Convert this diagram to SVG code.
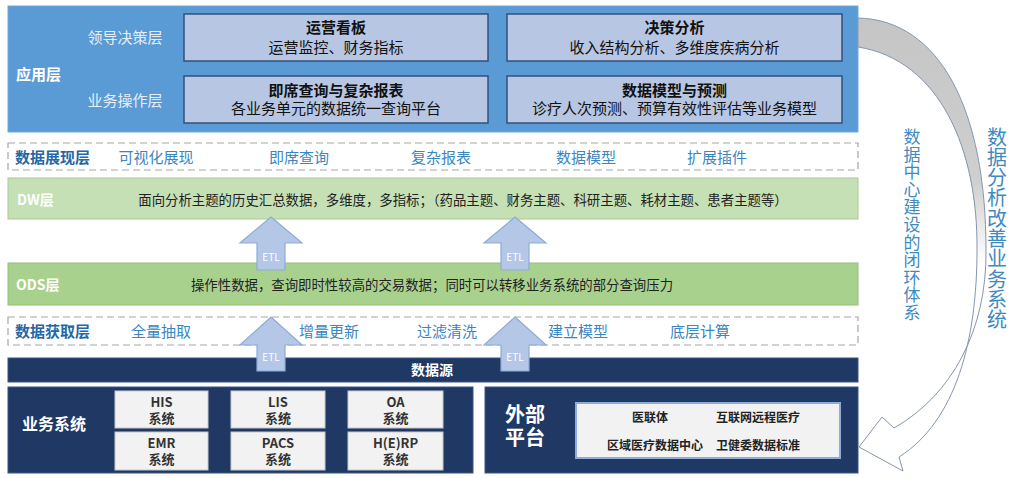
<svg xmlns="http://www.w3.org/2000/svg" width="1024" height="478" viewBox="0 0 1024 478">
<defs>
<linearGradient id="bandGrad" gradientUnits="userSpaceOnUse" x1="0" y1="0" x2="0" y2="478">
<stop offset="0" stop-color="#c4c4c4"/>
<stop offset="0.38" stop-color="#cfcfcf"/>
<stop offset="0.55" stop-color="#ffffff"/>
<stop offset="1" stop-color="#ffffff"/>
</linearGradient>
</defs>
<style>
text{font-family:"Noto Sans CJK SC","Noto Sans",sans-serif;}
.appbox{fill:#b7c6e2;stroke:#33507c;stroke-width:1.5;}
.t15b{font-size:15px;font-weight:bold;fill:#111;text-anchor:middle;}
.t15{font-size:15px;fill:#111;text-anchor:middle;}
.lbl{font-size:15px;fill:#e6eef8;text-anchor:middle;}
.dash{fill:#fff;stroke:#a6a6a6;stroke-width:1.2;stroke-dasharray:7 4;}
.rowhead{font-size:15px;font-weight:bold;fill:#2467a6;}
.item{font-size:15px;fill:#3a86bf;text-anchor:middle;}
.layer{font-size:14px;font-weight:bold;fill:#ffffff;}
.desc{font-size:13.4px;fill:#222;text-anchor:middle;}
.etl{fill:#b4c7e7;stroke:#8fabd8;stroke-width:1.2;}
.etlt{font-size:10px;fill:#ffffff;text-anchor:middle;}
.navy{fill:#1f3864;stroke:#3a5684;stroke-width:1;}
.sys{fill:#f2f2f2;stroke:#c9c9c9;stroke-width:1;}
.syst{font-size:13px;font-weight:bold;fill:#333;text-anchor:middle;}
.ext{font-size:12px;font-weight:bold;fill:#222;text-anchor:middle;}
.vt{fill:#3f8abf;writing-mode:vertical-rl;text-anchor:start;}
</style>

<g id="app-layer">
<rect x="8" y="6" width="850" height="126" fill="#5b9bd5" stroke="#6fa8dc" stroke-width="1"/>
<text x="16" y="80" class="layer" style="font-size:15px">应用层</text>
<text x="125" y="43" class="lbl">领导决策层</text>
<text x="125" y="106" class="lbl">业务操作层</text>
</g>
<g id="node-yunying">
<rect x="184" y="14" width="304" height="47" class="appbox"/>
<text x="336" y="33" class="t15b">运营看板</text>
<text x="336" y="53" class="t15">运营监控、财务指标</text>
</g>
<g id="node-juece">
<rect x="507" y="14" width="335" height="47" class="appbox"/>
<text x="674.5" y="33" class="t15b">决策分析</text>
<text x="674.5" y="53" class="t15">收入结构分析、多维度疾病分析</text>
</g>
<g id="node-jixi">
<rect x="184" y="76" width="304" height="47" class="appbox"/>
<text x="336" y="96" class="t15b">即席查询与复杂报表</text>
<text x="336" y="114" class="t15">各业务单元的数据统一查询平台</text>
</g>
<g id="node-moxing">
<rect x="507" y="76" width="335" height="47" class="appbox"/>
<text x="674.5" y="96" class="t15b">数据模型与预测</text>
<text x="674.5" y="114" class="t15">诊疗人次预测、预算有效性评估等业务模型</text>
</g>

<g id="presentation-layer">
<rect x="8" y="143" width="850" height="27" class="dash"/>
<text x="15" y="163" class="rowhead">数据展现层</text>
<text x="156" y="163" class="item">可视化展现</text>
<text x="299" y="163" class="item">即席查询</text>
<text x="441" y="163" class="item">复杂报表</text>
<text x="586" y="163" class="item">数据模型</text>
<text x="717" y="163" class="item">扩展插件</text>
</g>

<g id="dw-layer">
<rect x="8" y="178" width="850" height="41" fill="#c5e0b4" stroke="#a9c990" stroke-width="1"/>
<text x="17" y="205" class="layer">DW层</text>
<text x="463" y="205" class="desc">面向分析主题的历史汇总数据，多维度，多指标；（药品主题、财务主题、科研主题、耗材主题、患者主题等）</text>
</g>

<g id="ods-layer">
<rect x="8" y="263" width="850" height="42" fill="#a9d18e" stroke="#92bd76" stroke-width="1"/>
<text x="16" y="290" class="layer">ODS层</text>
<text x="432" y="290" class="desc">操作性数据，查询即时性较高的交易数据；同时可以转移业务系统的部分查询压力</text>
</g>

<g id="acquisition-layer">
<rect x="8" y="317" width="850" height="28" class="dash"/>
<text x="15" y="337" class="rowhead">数据获取层</text>
<text x="161" y="337" class="item">全量抽取</text>
<text x="329" y="337" class="item">增量更新</text>
<text x="447" y="337" class="item">过滤清洗</text>
<text x="578" y="337" class="item">建立模型</text>
<text x="700" y="337" class="item">底层计算</text>
</g>

<g id="datasource-bar">
<rect x="8" y="358" width="850" height="24" class="navy"/>
<text x="432" y="375" style="font-size:14px;font-weight:bold;fill:#fff;text-anchor:middle">数据源</text>
</g>

<g id="business-systems">
<rect x="8" y="387" width="465" height="86" class="navy"/>
<text x="22" y="430" style="font-size:16px;font-weight:bold;fill:#fff">业务系统</text>
</g>
<g id="node-his">
<rect x="115" y="391" width="93" height="37" class="sys"/>
<text x="161.5" y="407" class="syst">HIS</text>
<text x="161.5" y="423" class="syst">系统</text>
</g>
<g id="node-lis">
<rect x="231" y="391" width="94" height="37" class="sys"/>
<text x="278" y="407" class="syst">LIS</text>
<text x="278" y="423" class="syst">系统</text>
</g>
<g id="node-oa">
<rect x="348" y="391" width="95" height="37" class="sys"/>
<text x="395.5" y="407" class="syst">OA</text>
<text x="395.5" y="423" class="syst">系统</text>
</g>
<g id="node-emr">
<rect x="115" y="432" width="93" height="38" class="sys"/>
<text x="161.5" y="448" class="syst">EMR</text>
<text x="161.5" y="464" class="syst">系统</text>
</g>
<g id="node-pacs">
<rect x="231" y="432" width="94" height="38" class="sys"/>
<text x="278" y="448" class="syst">PACS</text>
<text x="278" y="464" class="syst">系统</text>
</g>
<g id="node-herp">
<rect x="348" y="432" width="95" height="38" class="sys"/>
<text x="395.5" y="448" class="syst">H(E)RP</text>
<text x="395.5" y="464" class="syst">系统</text>
</g>

<g id="external-platform">
<rect x="485" y="387" width="373" height="86" class="navy"/>
<text x="525" y="422" style="font-size:20px;font-weight:bold;fill:#fff;text-anchor:middle">外部</text>
<text x="525" y="445" style="font-size:20px;font-weight:bold;fill:#fff;text-anchor:middle">平台</text>
<rect x="576" y="403" width="264" height="55" fill="#f2f2f2" stroke="#8fabd8" stroke-width="2"/>
<text x="650" y="422" class="ext">医联体</text>
<text x="758" y="422" class="ext">互联网远程医疗</text>
<text x="655" y="450" class="ext">区域医疗数据中心</text>
<text x="758" y="450" class="ext">卫健委数据标准</text>
</g>

<g id="connectors">
<path class="etl" d="M271,217 L302,243 L285,243 L285,270 L257,270 L257,243 L240,243 Z"/>
<text x="271" y="261" class="etlt">ETL</text>
<path class="etl" d="M515,217 L546,243 L529,243 L529,270 L501,270 L501,243 L484,243 Z"/>
<text x="515" y="261" class="etlt">ETL</text>
<path class="etl" d="M271,317 L302,345 L285,345 L285,371 L257,371 L257,345 L240,345 Z"/>
<text x="271" y="361" class="etlt">ETL</text>
<path class="etl" d="M515,317 L546,345 L529,345 L529,371 L501,371 L501,345 L484,345 Z"/>
<text x="515" y="361" class="etlt">ETL</text>
<path d="M858,18 C940,20 986,110 986,250 C987,330 952,395 894,428 L882,417 L859,447 L903,471 L899,457 C956,421 977,340 977,250 C978,150 940,60 858,47 Z" fill="url(#bandGrad)" stroke="#8496ae" stroke-width="1"/>
</g>

<g id="loop-labels">
<text x="912" y="128" class="vt" style="font-size:17px;letter-spacing:0.6px">数据中心建设的闭环体系</text>
<text x="997" y="127" class="vt" style="font-size:20px;letter-spacing:0.3px">数据分析改善业务系统</text>
</g>
</svg>
